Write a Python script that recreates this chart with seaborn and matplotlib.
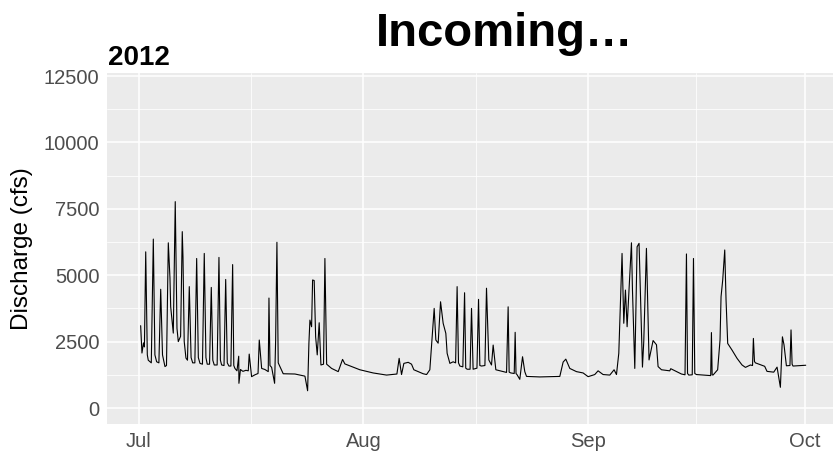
import numpy as np
import pandas as pd
import seaborn as sns
import matplotlib
matplotlib.use('Agg')
import matplotlib.pyplot as plt
import matplotlib.dates as mdates
from matplotlib.ticker import FixedLocator

# discharge readings (days since 2012-07-01, cfs)
days = [0.23, 0.41, 0.62, 0.75, 0.93, 1.15, 1.28, 1.70, 1.98, 2.20,
        2.44, 2.75, 3.00, 3.25, 3.59, 3.80, 4.05, 4.28, 4.38, 4.74,
        5.01, 5.25, 5.43, 5.75, 5.98, 6.08, 6.25, 6.49, 6.70, 6.95,
        7.20, 7.42, 7.72, 7.97, 8.20, 8.43, 8.77, 9.02, 9.25, 9.43,
        9.75, 9.99, 10.20, 10.40, 10.80, 11.05, 11.25, 11.42, 11.75, 11.98,
        12.20, 12.43, 12.70, 12.94, 13.10, 13.26, 13.54, 13.78, 13.81, 14.02,
        14.36, 14.78, 15.10, 15.23, 15.56, 16.02, 16.45, 16.62, 16.95, 17.40,
        17.86, 17.96, 18.10, 18.33, 18.74, 18.88, 19.06, 19.24, 19.93, 21.55,
        22.93, 23.30, 23.48, 23.62, 23.85, 23.99, 24.21, 24.41, 24.63, 24.90,
        25.14, 25.50, 25.69, 25.93, 26.62, 27.53, 28.13, 28.45, 30.52, 32.36,
        34.21, 35.64, 35.95, 36.28, 36.60, 37.20, 37.66, 37.98, 39.27, 39.74,
        40.19, 40.51, 40.79, 41.02, 41.34, 41.67, 42.03, 42.40, 42.58, 42.96,
        43.41, 43.75, 43.96, 44.15, 44.34, 44.75, 44.99, 45.15, 45.35, 45.75,
        45.95, 46.17, 46.70, 46.92, 47.10, 47.33, 47.80, 48.02, 48.34, 48.71,
        48.94, 49.31, 50.79, 51.01, 51.15, 51.38, 51.85, 51.98, 52.10, 52.25,
        52.62, 53.00, 53.31, 53.55, 55.39, 58.15, 58.61, 58.98, 59.53, 60.45,
        61.37, 62.06, 62.98, 63.44, 64.13, 65.06, 65.65, 65.98, 66.30, 66.75,
        66.99, 67.22, 67.45, 68.05, 68.19, 68.51, 68.83, 69.10, 69.57, 69.75,
        70.12, 70.48, 71.04, 71.51, 71.73, 72.20, 73.34, 73.48, 74.96, 75.45,
        75.65, 75.80, 75.97, 76.45, 76.62, 76.80, 77.03, 78.87, 79.00, 79.10,
        79.20, 79.32, 79.96, 80.29, 80.43, 80.66, 80.94, 81.12, 81.35, 81.95,
        82.64, 83.33, 83.80, 84.49, 84.78, 84.90, 85.05, 85.18, 85.87, 86.46,
        86.78, 87.71, 88.17, 88.63, 88.91, 89.13, 89.46, 89.95, 90.10, 90.25,
        90.37, 92.13]
cfs = [3100, 2070, 2450, 2300, 5880, 2000, 1800, 1700, 6360, 2000,
       1740, 1700, 4470, 2000, 1560, 1600, 6220, 4900, 3810, 2820,
       7770, 3000, 2500, 2700, 6640, 5680, 2500, 1880, 1800, 4570,
       1900, 1700, 1700, 5630, 1900, 1680, 1650, 5820, 1900, 1650,
       1650, 4540, 1800, 1620, 1620, 5670, 1800, 1620, 1600, 4840,
       1700, 1580, 1580, 5400, 1600, 1490, 1400, 1950, 930, 1450,
       1380, 1420, 1400, 2030, 1180, 1250, 1300, 2560, 1490, 1450,
       1370, 4140, 1600, 1530, 930, 2520, 6240, 1700, 1290, 1280,
       1200, 650, 2440, 3310, 3060, 4820, 4800, 2680, 2000, 3210,
       1620, 1650, 5630, 1650, 1490, 1370, 1830, 1660, 1440, 1320,
       1240, 1280, 1870, 1260, 1680, 1720, 1650, 1440, 1290, 1260,
       1440, 2690, 3750, 2560, 2440, 4000, 3190, 2810, 2060, 1680,
       1740, 1700, 4570, 1700, 1580, 1550, 4340, 1500, 1460, 1460,
       3750, 1460, 1500, 4090, 1600, 1580, 1600, 4510, 1810, 1620,
       2370, 1440, 1340, 3810, 1350, 1320, 1300, 2850, 1300, 1250,
       1080, 1930, 1370, 1190, 1170, 1190, 1730, 1840, 1490, 1370,
       1320, 1180, 1260, 1400, 1260, 1240, 1440, 1260, 2060, 5820,
       3190, 4440, 3060, 6220, 4440, 1490, 6070, 6200, 1540, 2500,
       6010, 1810, 2540, 2380, 1560, 1440, 1400, 1480, 1280, 1250,
       5800, 1300, 1240, 1250, 5630, 1300, 1260, 1220, 1220, 2840,
       1250, 1240, 1440, 2560, 4190, 4820, 5950, 4070, 2430, 2180,
       1870, 1620, 1530, 1620, 1600, 2620, 1750, 1700, 1630, 1570,
       1380, 1350, 1540, 780, 2680, 2380, 1590, 1600, 2940, 1650,
       1580, 1610]

y_ticks = [0, 2500, 5000, 7500, 10000, 12500]

start = pd.Timestamp('2012-07-01')
df = pd.DataFrame({'date': start + pd.to_timedelta(days, unit='D'), 'cfs': cfs})

sns.set_style('darkgrid', {'axes.facecolor': '#EBEBEB', 'grid.color': 'white'})
plt.rcParams['font.family'] = ['Liberation Sans', 'DejaVu Sans']
plt.rcParams['text.color'] = 'black'

fig = plt.figure(figsize=(8.33, 4.53), dpi=100)
ax = fig.add_axes([107/833, 29/453, 726/833, 351/453])

sns.lineplot(data=df, x='date', y='cfs', color='black', lw=0.8, ax=ax)

ax.set_xlim(start - pd.Timedelta(days=4.42), pd.Timestamp('2012-10-01') + pd.Timedelta(days=3.9))
ax.set_ylim(-602, 12613)

ax.xaxis.set_major_locator(mdates.MonthLocator())
ax.xaxis.set_major_formatter(mdates.DateFormatter('%b'))
minor_dates = [pd.Timestamp('2012-07-16 12:00'), pd.Timestamp('2012-08-16 12:00'),
               pd.Timestamp('2012-09-16')]
ax.xaxis.set_minor_locator(FixedLocator(mdates.date2num(minor_dates)))
ax.set_yticks(y_ticks)
ax.set_yticklabels([str(v) for v in y_ticks])
ax.yaxis.set_minor_locator(FixedLocator([v + 1250 for v in y_ticks[:-1]]))

ax.grid(which='major', color='white', lw=1.1)
ax.grid(which='minor', color='white', lw=0.55)
for s in ax.spines.values():
    s.set_visible(False)

ax.tick_params(axis='both', which='major', length=3.5, width=0.8, color='#333333',
               labelcolor='#4D4D4D', labelsize=14.5, pad=2)
ax.tick_params(axis='both', which='minor', length=0)

ax.set_xlabel('')
ax.set_ylabel('Discharge (cfs)', fontsize=17.5, color='black', labelpad=8)

fig.text(108/833, 1 - 65/453, '2012', fontsize=20, fontweight='bold', color='black',
         ha='left', va='baseline')
fig.text(505/833, 1 - 46/453, 'Incoming…', fontsize=34, fontweight='bold', color='black',
         ha='center', va='baseline')

fig.savefig('out.png', dpi=100)
